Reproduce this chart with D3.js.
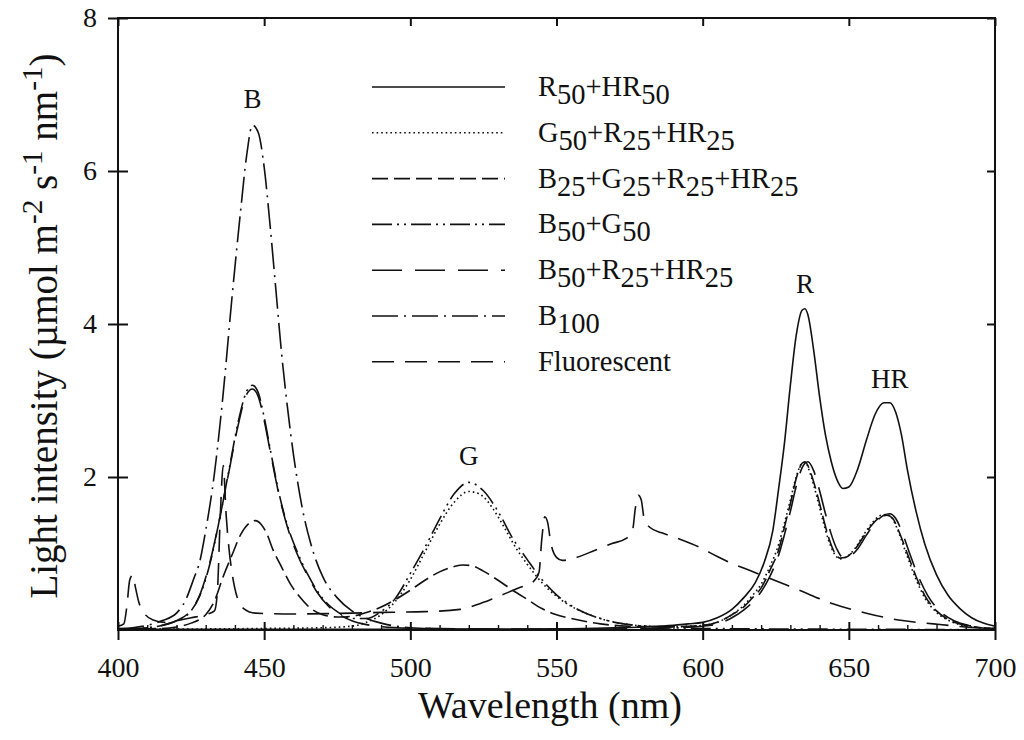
<!DOCTYPE html>
<html>
<head>
<meta charset="utf-8">
<script src="https://cdn.jsdelivr.net/npm/d3@7"></script>
<style>
  body { margin: 0; background: #fff; }
  text { font-family: "Liberation Serif", "Times New Roman", serif; fill: #111; }
</style>
</head>
<body>
<script>
// spectra: [wavelength nm, intensity]
const r50hr50 = [[400,0.01],[450,0.01],[500,0.01],[550,0.015],[570,0.03],[580,0.04],[590,0.06],[595,0.08],[600,0.1],[605,0.16],[610,0.27],[614,0.42],[618,0.62],[621,0.88],[624,1.3],[626,1.85],[628,2.45],[630,3.2],[632,3.85],[634,4.18],[635,4.2],[636,4.12],[638,3.65],[640,3.05],[642,2.55],[644,2.2],[646,1.96],[648,1.85],[650,1.87],[653,2.1],[656,2.48],[659,2.82],[662,2.97],[664,2.97],[666,2.85],[668,2.55],[670,2.1],[673,1.55],[676,1.12],[680,0.72],[684,0.45],[688,0.28],[692,0.16],[696,0.09],[700,0.05]];

const g50r25hr25 = [[400,0.01],[450,0.02],[470,0.03],[480,0.05],[485,0.1],[490,0.2],[495,0.38],[500,0.66],[505,1.02],[510,1.38],[515,1.67],[520,1.81],[524,1.77],[528,1.6],[532,1.35],[536,1.08],[540,0.86],[545,0.62],[550,0.44],[555,0.31],[560,0.22],[565,0.15],[570,0.1],[575,0.07],[580,0.05],[585,0.045],[590,0.04],[595,0.05],[600,0.06],[605,0.1],[610,0.2],[614,0.32],[617,0.45],[620,0.6],[623,0.83],[626,1.12],[628,1.4],[630,1.7],[632,2.0],[634,2.18],[635,2.19],[637,2.02],[639,1.75],[641,1.45],[643,1.18],[645,1.0],[647,0.93],[649,0.95],[652,1.06],[655,1.24],[658,1.4],[661,1.5],[663,1.51],[665,1.45],[667,1.28],[670,0.96],[673,0.66],[676,0.42],[680,0.23],[685,0.11],[690,0.05],[695,0.03],[700,0.015]];

const b25g25r25hr25 = [[400,0.01],[415,0.02],[420,0.04],[425,0.09],[430,0.2],[433,0.38],[436,0.7],[439,0.98],[442,1.25],[445,1.4],[447,1.43],[449,1.38],[451,1.25],[453,1.05],[456,0.82],[459,0.6],[462,0.44],[466,0.28],[470,0.2],[475,0.17],[480,0.18],[485,0.23],[490,0.3],[495,0.4],[500,0.52],[505,0.65],[510,0.76],[515,0.83],[518,0.85],[521,0.84],[525,0.77],[530,0.65],[535,0.52],[540,0.4],[545,0.28],[550,0.2],[555,0.15],[560,0.11],[565,0.08],[570,0.06],[575,0.05],[580,0.045],[590,0.045],[600,0.06],[605,0.1],[610,0.2],[614,0.3],[617,0.42],[620,0.55],[623,0.78],[626,1.05],[628,1.35],[630,1.65],[632,1.98],[634,2.18],[635,2.2],[637,2.05],[639,1.8],[641,1.5],[643,1.22],[645,1.02],[647,0.94],[649,0.95],[652,1.05],[655,1.22],[658,1.38],[661,1.48],[663,1.5],[665,1.46],[667,1.3],[670,1.0],[673,0.7],[676,0.45],[680,0.25],[685,0.12],[690,0.06],[695,0.03],[700,0.015]];

const b50g50 = [[400,0.01],[410,0.03],[415,0.06],[420,0.12],[425,0.25],[428,0.45],[431,0.8],[435,1.5],[438,2.1],[441,2.7],[444,3.12],[446,3.2],[448,3.1],[450,2.78],[452,2.38],[455,1.8],[458,1.36],[461,1.05],[465,0.72],[468,0.52],[472,0.33],[475,0.24],[480,0.15],[485,0.15],[490,0.24],[495,0.42],[500,0.74],[505,1.08],[510,1.45],[515,1.78],[520,1.93],[525,1.82],[530,1.55],[535,1.2],[540,0.92],[545,0.66],[550,0.46],[555,0.32],[560,0.22],[565,0.15],[570,0.1],[575,0.07],[580,0.05],[590,0.03],[600,0.02],[650,0.01],[700,0.005]];

const b50r25hr25 = [[400,0.01],[410,0.03],[415,0.06],[420,0.12],[425,0.26],[428,0.46],[431,0.82],[435,1.5],[438,2.08],[441,2.66],[444,3.08],[446,3.15],[448,3.05],[450,2.74],[452,2.35],[455,1.78],[458,1.34],[461,1.02],[465,0.7],[468,0.5],[472,0.31],[475,0.22],[480,0.12],[485,0.07],[490,0.045],[500,0.025],[520,0.015],[550,0.01],[580,0.02],[590,0.03],[600,0.05],[605,0.08],[610,0.16],[614,0.26],[617,0.36],[620,0.5],[623,0.7],[626,0.98],[628,1.25],[630,1.55],[632,1.88],[634,2.12],[636,2.2],[638,2.08],[640,1.82],[642,1.52],[644,1.25],[646,1.05],[648,0.95],[650,0.96],[653,1.06],[656,1.24],[659,1.4],[662,1.5],[664,1.52],[666,1.46],[668,1.3],[671,0.98],[674,0.68],[677,0.45],[681,0.25],[686,0.12],[691,0.06],[696,0.03],[700,0.02]];

const b100 = [[400,0.02],[405,0.03],[410,0.06],[415,0.12],[420,0.22],[423,0.38],[426,0.68],[428,0.9],[430,1.3],[433,2.05],[436,3.1],[439,4.35],[442,5.5],[444,6.2],[446,6.6],[448,6.5],[450,6.05],[452,5.3],[454,4.45],[456,3.6],[458,2.9],[460,2.3],[463,1.6],[466,1.12],[470,0.7],[475,0.42],[480,0.25],[485,0.15],[490,0.09],[495,0.05],[500,0.03],[510,0.015],[530,0.005],[560,0],[700,0]];

const fluorescent = [[400,0.05],[402,0.08],[403,0.3],[404,0.65],[405,0.72],[406,0.55],[407,0.38],[409,0.22],[412,0.13],[416,0.1],[420,0.12],[425,0.16],[430,0.2],[433,0.25],[434,0.5],[435,1.5],[436,2.15],[437,1.5],[438,1.05],[439,0.75],[441,0.4],[443,0.28],[447,0.22],[460,0.21],[480,0.22],[490,0.23],[505,0.24],[517,0.27],[527,0.39],[537,0.55],[542,0.63],[544,0.75],[545,1.2],[546,1.48],[547,1.4],[548,1.15],[550,0.95],[552,0.91],[557,0.95],[563,1.04],[569,1.13],[574,1.2],[576,1.3],[577,1.6],[578,1.76],[579,1.7],[580,1.45],[582,1.34],[586,1.27],[592,1.19],[599,1.08],[605,0.96],[610,0.87],[616,0.78],[622,0.69],[633,0.52],[644,0.35],[656,0.22],[667,0.13],[679,0.08],[690,0.04],[700,0.02]];

const seriesNames = ["R_{50}+HR_{50}", "G_{50}+R_{25}+HR_{25}", "B_{25}+G_{25}+R_{25}+HR_{25}",
                     "B_{50}+G_{50}", "B_{50}+R_{25}+HR_{25}", "B_{100}", "Fluorescent"];
const seriesData = [r50hr50, g50r25hr25, b25g25r25hr25, b50g50, b50r25hr25, b100, fluorescent];
const dashes = [null, "1.6,3", "16,6", "20,5,2,5,2,5", "30,13", "26,6,2,6", "22,11"];

const xTicks = [400, 450, 500, 550, 600, 650, 700];
const xMinor = d3.range(400, 701, 10);
const yTicks = [2, 4, 6, 8];

const peakLabels = [["B", 446, 6.82], ["G", 520, 2.16], ["R", 635, 4.4], ["HR", 664, 3.16]];

const W = 1024, H = 740;
const plot = {left: 118, right: 995, top: 18, bottom: 630};

const svg = d3.select("body").append("svg").attr("width", W).attr("height", H);

const x = d3.scaleLinear().domain([400, 700]).range([plot.left, plot.right]);
const y = d3.scaleLinear().domain([0, 8]).range([plot.bottom, plot.top]);

svg.append("clipPath").attr("id", "clip")
  .append("rect").attr("x", plot.left).attr("y", plot.top)
  .attr("width", plot.right - plot.left).attr("height", plot.bottom - plot.top);

// lines
const line = d3.line().x(d => x(d[0])).y(d => y(d[1])).curve(d3.curveMonotoneX);
svg.append("g").attr("clip-path", "url(#clip)")
  .selectAll("path").data(seriesData).join("path")
    .attr("d", line)
    .attr("fill", "none")
    .attr("stroke", "#111")
    .attr("stroke-width", 1.6)
    .attr("stroke-dasharray", (d, i) => dashes[i]);

// axes
function style(g) {
  g.select(".domain").remove();
  g.selectAll("line").attr("stroke", "#111").attr("stroke-width", 2);
  g.selectAll("text").style("font-family", "Liberation Serif").style("font-size", "28px").attr("fill", "#111");
}

svg.append("g").attr("transform", `translate(0,${plot.bottom})`)
  .call(d3.axisBottom(x).tickValues(xTicks).tickSize(10).tickSizeOuter(0))
  .call(style)
  .call(g => g.selectAll("text").attr("y", 47).attr("dy", 0));
svg.append("g").attr("transform", `translate(0,${plot.bottom})`)
  .call(d3.axisTop(x).tickValues(xTicks).tickSize(8).tickSizeOuter(0).tickFormat(""))
  .call(style);
svg.append("g").attr("transform", `translate(0,${plot.bottom})`)
  .call(d3.axisTop(x).tickValues(xMinor.filter(v => v % 50)).tickSize(5).tickSizeOuter(0).tickFormat(""))
  .call(style).call(g => g.selectAll("line").attr("stroke-width", 1.4));
svg.append("g").attr("transform", `translate(0,${plot.top})`)
  .call(d3.axisBottom(x).tickValues(xTicks).tickSize(8).tickSizeOuter(0).tickFormat(""))
  .call(style);

svg.append("g").attr("transform", `translate(${plot.left},0)`)
  .call(d3.axisLeft(y).tickValues(yTicks).tickSize(10).tickSizeOuter(0))
  .call(style)
  .call(g => g.selectAll("text").attr("x", -21));
svg.append("g").attr("transform", `translate(${plot.left},0)`)
  .call(d3.axisRight(y).tickValues(yTicks).tickSize(10).tickSizeOuter(0).tickFormat(""))
  .call(style);
svg.append("g").attr("transform", `translate(${plot.right},0)`)
  .call(d3.axisLeft(y).tickValues(yTicks).tickSize(8).tickSizeOuter(0).tickFormat(""))
  .call(style);

svg.append("rect")
  .attr("x", plot.left).attr("y", plot.top)
  .attr("width", plot.right - plot.left).attr("height", plot.bottom - plot.top)
  .attr("fill", "none").attr("stroke", "#111").attr("stroke-width", 2);

// text with _{sub} and ^{sup}; the shift is undone on the next plain run
function rich(text, str, shift) {
  let back = 0;
  str.split(/(_\{[^}]*\}|\^\{[^}]*\})/).filter(s => s).forEach(s => {
    if (s[0] === "_" || s[0] === "^") {
      const d = s[0] === "^" ? -shift : shift;
      text.append("tspan").text(s.slice(2, -1))
        .attr("dy", d + back)
        .style("font-size", s[0] === "^" ? "0.75em" : "1em");
      back = -d;
    } else {
      text.append("tspan").text(s).attr("dy", back);
      back = 0;
    }
  });
}

// axis titles
svg.append("text").attr("x", 550).attr("y", 718).attr("text-anchor", "middle")
  .style("font-size", "38px").text("Wavelength (nm)");

const yt = svg.append("text").attr("transform", "translate(57,326) rotate(-90)")
  .attr("text-anchor", "middle").style("font-size", "39px");
rich(yt, "Light intensity (\u00b5mol m^{-2} s^{-1} nm^{-1})", 15);

// legend
const legend = svg.append("g");
seriesNames.forEach((name, i) => {
  const ly = 87 + i * 45.8;
  legend.append("line").attr("x1", 372).attr("x2", 505).attr("y1", ly).attr("y2", ly)
    .attr("stroke", "#111").attr("stroke-width", 1.6).attr("stroke-dasharray", dashes[i]);
  const t = legend.append("text").attr("x", 538).attr("y", ly + 9).style("font-size", "28.5px");
  rich(t, name, 8);
});

// peak labels
svg.selectAll(".peak").data(peakLabels).join("text")
  .attr("class", "peak")
  .attr("x", d => x(d[1])).attr("y", d => y(d[2]))
  .attr("text-anchor", "middle").style("font-size", "27px")
  .text(d => d[0]);
</script>
</body>
</html>
